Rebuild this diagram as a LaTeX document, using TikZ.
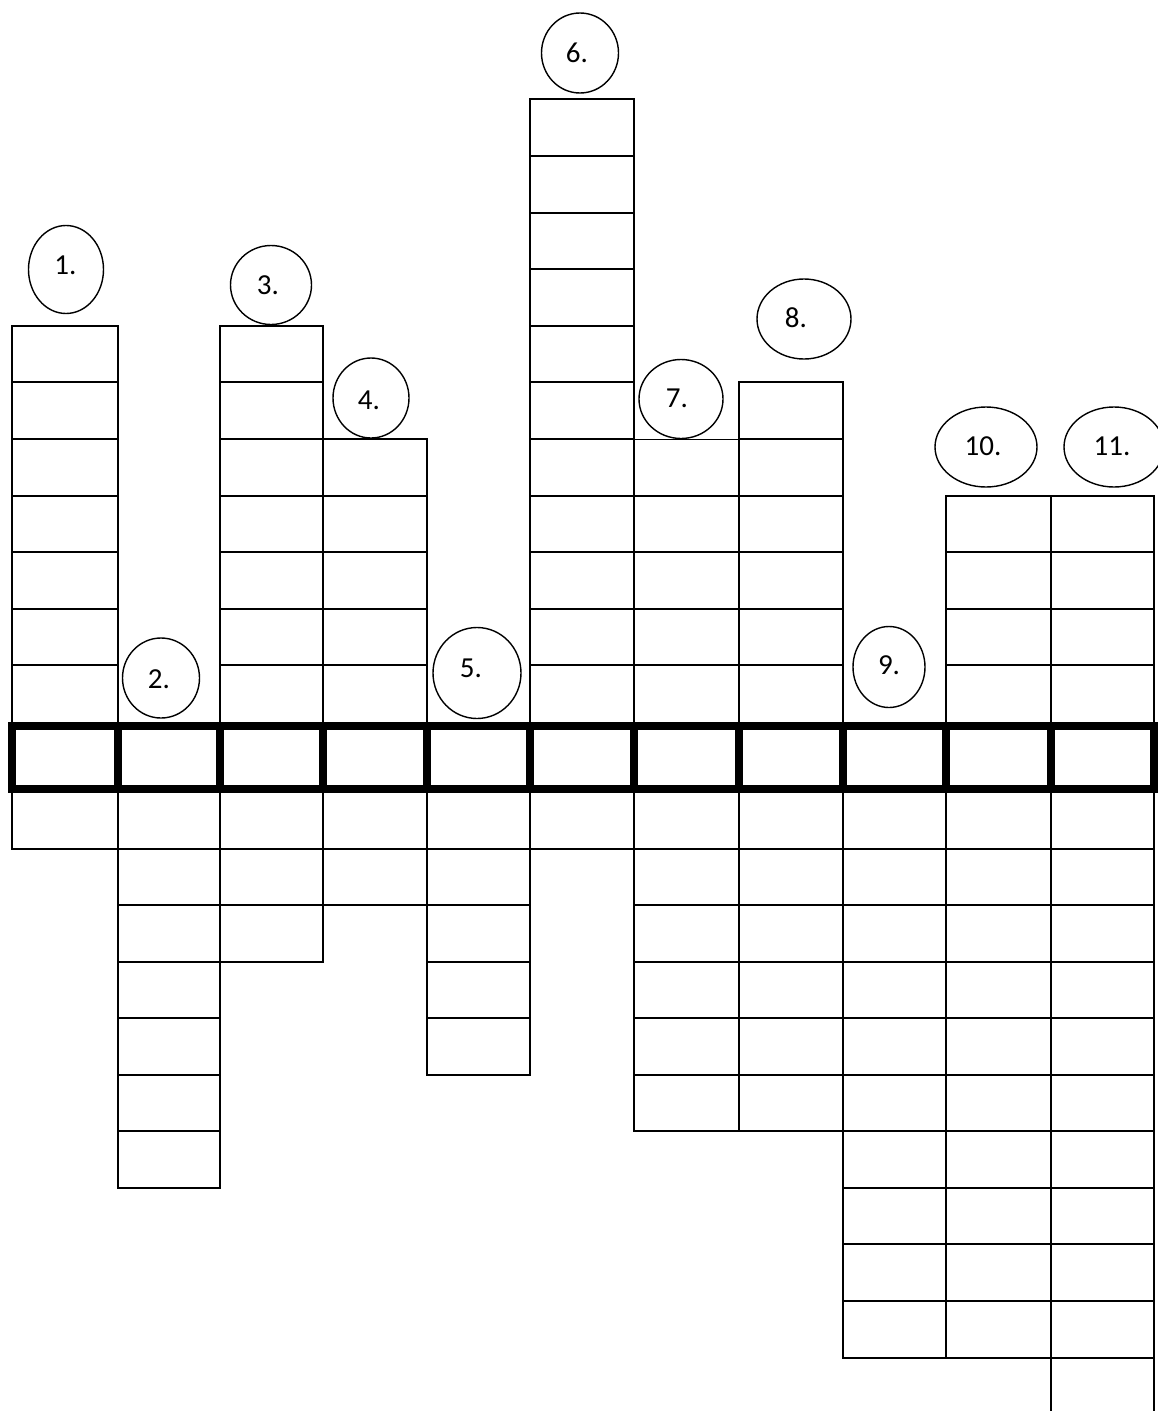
\documentclass[tikz,border=0pt]{standalone}
\usepackage{fontspec}
\setmainfont{Carlito}
\usetikzlibrary{shapes.geometric}
\begin{document}
\begin{tikzpicture}[x=1pt,y=-1pt,
  cellline/.style={line width=2.2pt, line cap=rect},
  thickline/.style={line width=7.8pt, line join=miter},
  oval/.style={draw, ellipse, line width=1.4pt, inner sep=0pt},
  num/.style={font=\fontsize{29}{29}\selectfont, inner sep=0pt}]
\useasboundingbox (0,0) rectangle (1157,1411);
\fill[white] (0,0) rectangle (1157,1411);
% columns: left x / right x / cells above / cells below / width of top edge
\foreach \xl/\xr/\na/\nb/\tw in {12/118/7/1/2.2, 118/220/0/7/2.2, 220/323/7/3/2.2,
  323/427/5/2/2.2, 427/530/0/5/2.2, 530/634/11/1/2.2, 634/739/5/6/1.0,
  739/843/6/6/2.2, 843/946/0/10/2.2, 946/1051/4/10/2.2, 1051/1154/4/10/2.2}{
  \ifnum\na>0
    \pgfmathsetmacro\ytop{round(722-56.6*\na)}
    \draw[cellline] (\xl,\ytop) -- (\xl,726) (\xr,\ytop) -- (\xr,726);
    \foreach \k in {1,...,\na}{
      \pgfmathsetmacro\lw{\k==\na ? \tw : 2.2}
      \pgfmathsetmacro\yy{round(722-56.6*\k)}
      \draw[cellline, line width=\lw pt] (\xl,\yy) -- (\xr,\yy);
    }
  \fi
  \ifnum\nb>0
    \pgfmathsetmacro\ybot{round(792+56.55*\nb)}
    \draw[cellline] (\xl,789) -- (\xl,\ybot) (\xr,789) -- (\xr,\ybot);
    \foreach \k in {1,...,\nb}{
      \pgfmathsetmacro\yy{round(792+56.55*\k)}
      \draw[cellline] (\xl,\yy) -- (\xr,\yy);
    }
  \fi
}
% open cell at the bottom of column 11
\coordinate (b11l) at (1051,1358);
\coordinate (b11r) at (1154,1358);
\coordinate (e11l) at (1051,1420);
\coordinate (e11r) at (1154,1420);
\draw[cellline] (b11l) -- (e11l) (b11r) -- (e11r);
% highlighted row
\foreach \xl/\xr in {12/118, 118/220, 220/323, 323/427, 427/530, 530/634,
  634/739, 739/843, 843/946, 946/1051, 1051/1154}{
  \draw[thickline] (\xl,726) rectangle (\xr,789);
}
% numbered ovals
\foreach \n/\cx/\cy/\w/\h/\tx/\ty in {1/66/269.5/75/88/65.5/265, 2/161/678/77/80/159/679.5,
  3/271/285/81/79/268/285, 4/371/398/76/80/369/400, 5/477/673/88/91/471/668,
  6/580/53/77/80/577/52.5, 7/681/399/84/79/677/398, 8/804/319/94/80/796/318,
  9/889/667/72/81/889/665, 10/986/447/102/80/983/446, 11/1114/447/100/80/1112/446}{
  \node[oval, minimum width=\w pt, minimum height=\h pt] (c\n) at (\cx,\cy) {};
  \node[num] (t\n) at (\tx,\ty) {\n.};
}
\end{tikzpicture}
\end{document}
